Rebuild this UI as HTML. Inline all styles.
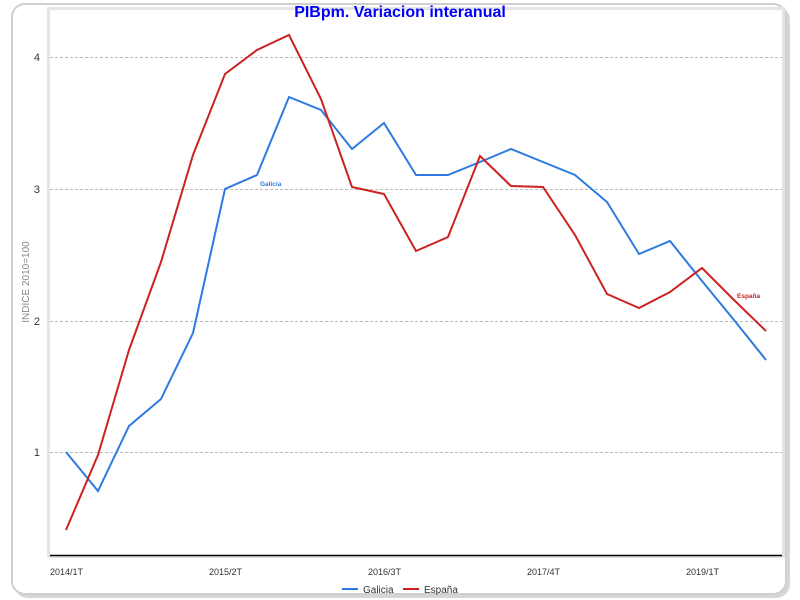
<!DOCTYPE html>
<html><head><style>
html,body{margin:0;padding:0;background:#fff;width:800px;height:600px;overflow:hidden}
</style></head><body>
<svg width="800" height="600" xmlns="http://www.w3.org/2000/svg" font-family="Liberation Sans, sans-serif">
<rect x="0" y="0" width="800" height="600" fill="#fff"/>
<rect x="14" y="6" width="776" height="592" rx="14" fill="#bbb" opacity="0.6"/>
<rect x="12" y="4" width="774" height="590" rx="13" fill="#fff" stroke="#cfcfcf" stroke-width="2"/>
<rect x="47" y="7" width="738" height="551" fill="#e4e4e4"/>
<rect x="50" y="10" width="732" height="545" fill="#fff"/>
<g stroke="#bbb" stroke-width="1" stroke-dasharray="3,2">
<line x1="50" y1="57.5" x2="782" y2="57.5"/>
<line x1="50" y1="189.5" x2="782" y2="189.5"/>
<line x1="50" y1="321.5" x2="782" y2="321.5"/>
<line x1="50" y1="452.5" x2="782" y2="452.5"/>
</g>
<line x1="50" y1="555.5" x2="782" y2="555.5" stroke="#000" stroke-width="1.5"/>
<g font-size="11" fill="#333" text-anchor="end">
<text x="40" y="61">4</text><text x="40" y="193">3</text><text x="40" y="325">2</text><text x="40" y="456">1</text>
</g>
<text x="29" y="282" font-size="10" fill="#888" text-anchor="middle" transform="rotate(-90 29 282)">INDICE 2010=100</text>
<g font-size="9" fill="#333">
<text x="50" y="575">2014/1T</text><text x="209" y="575">2015/2T</text><text x="368" y="575">2016/3T</text><text x="527" y="575">2017/4T</text><text x="686" y="575">2019/1T</text>
</g>
<text x="400" y="17" font-size="16" font-weight="bold" fill="#0000ff" text-anchor="middle">PIBpm. Variacion interanual</text>
<polyline fill="none" stroke="#2d7be0" stroke-width="2" points="66,452 98,491 129,426 161,399 193,333 225,189 257,175 289,97 321,110 352,149 384,123 416,175 448,175 480,162 511,149 543,162 575,175 607,202 639,254 670,241 702,281 734,320 766,360"/>
<polyline fill="none" stroke="#cc2222" stroke-width="2" points="66,530 98,455 129,350 161,262 193,155 225,74 257,50 289,35 321,99 352,187 384,194 416,251 448,237 480,156 511,186 543,187 575,235 607,294 639,308 670,292 702,268 734,300 766,331"/>
<text x="260" y="186" font-size="6.5" font-weight="bold" fill="#2d7be0">Galicia</text>
<text x="737" y="298" font-size="6.5" font-weight="bold" fill="#cc2222">España</text>
<line x1="342" y1="589" x2="358" y2="589" stroke="#2d7be0" stroke-width="2"/>
<text x="363" y="593" font-size="10" fill="#333">Galicia</text>
<line x1="403" y1="589" x2="419" y2="589" stroke="#cc2222" stroke-width="2"/>
<text x="424" y="593" font-size="10" fill="#333">España</text>
</svg>
</body></html>
